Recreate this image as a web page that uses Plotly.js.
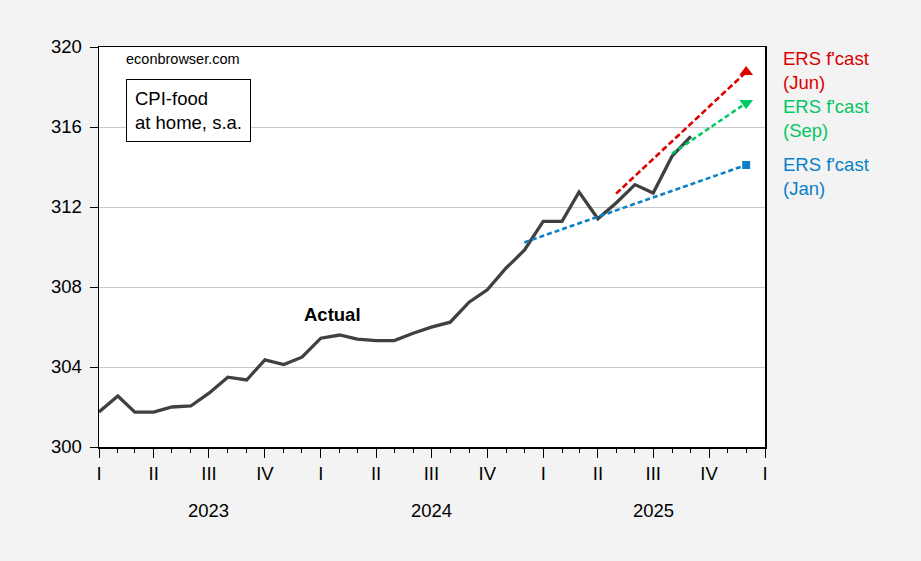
<!DOCTYPE html>
<html>
<head>
<meta charset="utf-8">
<script src="https://cdn.plot.ly/plotly-3.0.1.min.js"></script>
<style>
  html, body { margin: 0; padding: 0; background: #f3f3f3; }
  #chart { width: 921px; height: 561px; }
</style>
</head>
<body>
<div id="chart"></div>
<script>
// ---- Data ----
const actualDates = [
  '2023-01-01','2023-02-01','2023-03-01','2023-04-01','2023-05-01','2023-06-01',
  '2023-07-01','2023-08-01','2023-09-01','2023-10-01','2023-11-01','2023-12-01',
  '2024-01-01','2024-02-01','2024-03-01','2024-04-01','2024-05-01','2024-06-01',
  '2024-07-01','2024-08-01','2024-09-01','2024-10-01','2024-11-01','2024-12-01',
  '2025-01-01','2025-02-01','2025-03-01','2025-04-01','2025-05-01','2025-06-01',
  '2025-07-01','2025-08-01','2025-09-01'
];
const actualValues = [
  301.75, 302.55, 301.74, 301.74, 302.00, 302.05,
  302.69, 303.49, 303.35, 304.36, 304.12, 304.49,
  305.44, 305.60, 305.39, 305.32, 305.32, 305.69,
  305.99, 306.24, 307.24, 307.86, 308.95, 309.84,
  311.28, 311.28, 312.75, 311.41, 312.20, 313.12,
  312.70, 314.54, 315.53
];

const janFcastDates  = ['2024-12-01', '2025-12-01'];
const janFcastValues = [310.23, 314.10];
const junFcastDates  = ['2025-05-01', '2025-12-01'];
const junFcastValues = [312.67, 318.75];
const sepFcastDates  = ['2025-08-01', '2025-12-01'];
const sepFcastValues = [314.67, 317.20];

const quarterTickDates = [
  '2023-01-01','2023-04-01','2023-07-01','2023-10-01',
  '2024-01-01','2024-04-01','2024-07-01','2024-10-01',
  '2025-01-01','2025-04-01','2025-07-01','2025-10-01',
  '2026-01-01'
];
const quarterTickLabels = ['I','II','III','IV','I','II','III','IV','I','II','III','IV','I'];
const yearLabels = ['2023', '2024', '2025'];
const yearLabelDates = ['2023-07-01', '2024-07-01', '2025-07-01'];
const yTicks = [300, 304, 308, 312, 316, 320];

// ---- Styles ----
const FONT = 'Liberation Sans, Arial, sans-serif';
const RED = '#dd0000', GREEN = '#00c864', BLUE = '#0a80c8', DARK = '#404040';

const last = a => a[a.length - 1];

const traces = [
  { x: actualDates, y: actualValues, mode: 'lines', line: { color: DARK, width: 3.3 }, hoverinfo: 'x+y' },
  { x: janFcastDates, y: janFcastValues, mode: 'lines', line: { color: BLUE, width: 2.6, dash: '5px,3px' } },
  { x: [last(janFcastDates)], y: [last(janFcastValues)], mode: 'markers',
    marker: { color: BLUE, symbol: 'square', size: 8 } },
  { x: junFcastDates, y: junFcastValues, mode: 'lines', line: { color: RED, width: 2.6, dash: '6px,3px' } },
  { x: [last(junFcastDates)], y: [last(junFcastValues)], mode: 'markers',
    marker: { color: RED, symbol: 'triangle-up', size: 12 } },
  { x: sepFcastDates, y: sepFcastValues, mode: 'lines', line: { color: GREEN, width: 2.6, dash: '5px,3px' } },
  { x: [last(sepFcastDates)], y: [last(sepFcastValues)], mode: 'markers',
    marker: { color: GREEN, symbol: 'triangle-down', size: 12 } }
];

const annotations = [
  { xref: 'paper', yref: 'paper', x: 0.0375, y: 0.97, xanchor: 'left', yanchor: 'middle',
    text: 'econbrowser.com', showarrow: false, font: { family: FONT, size: 14.5, color: '#000' } },
  { xref: 'paper', yref: 'paper', x: 0.0405, y: 0.92, xanchor: 'left', yanchor: 'top',
    text: 'CPI-food<br>at home, s.a.', align: 'left', showarrow: false,
    bordercolor: '#000', borderwidth: 1, borderpad: 8, bgcolor: '#ffffff',
    font: { family: FONT, size: 18.5, color: '#000' } },
  { xref: 'paper', yref: 'paper', x: 0.351, y: 0.3325, xanchor: 'center', yanchor: 'middle',
    text: '<b>Actual</b>', showarrow: false, font: { family: FONT, size: 18.5, color: '#000' } },
  { xref: 'paper', yref: 'paper', x: 1.024, y: 0.9425, xanchor: 'left', yanchor: 'middle',
    text: "ERS f'cast<br>(Jun)", align: 'left', showarrow: false, font: { family: FONT, size: 18.5, color: RED } },
  { xref: 'paper', yref: 'paper', x: 1.024, y: 0.821, xanchor: 'left', yanchor: 'middle',
    text: "ERS f'cast<br>(Sep)", align: 'left', showarrow: false, font: { family: FONT, size: 18.5, color: GREEN } },
  { xref: 'paper', yref: 'paper', x: 1.024, y: 0.6775, xanchor: 'left', yanchor: 'middle',
    text: "ERS f'cast<br>(Jan)", align: 'left', showarrow: false, font: { family: FONT, size: 18.5, color: BLUE } }
];
yearLabels.forEach((t, i) => {
  annotations.push({ xref: 'x', yref: 'paper', x: yearLabelDates[i], y: -0.16, xanchor: 'center', yanchor: 'middle',
    text: t, showarrow: false, font: { family: FONT, size: 18.5, color: '#000' } });
});

const layout = {
  width: 921, height: 561,
  paper_bgcolor: '#f3f3f3', plot_bgcolor: '#ffffff',
  margin: { l: 99, r: 156, t: 47, b: 114, pad: 0 },
  showlegend: false,
  font: { family: FONT, size: 18.5, color: '#000' },
  xaxis: {
    type: 'date', range: ['2023-01-01', '2026-01-01'],
    tickmode: 'array', tickvals: quarterTickDates, ticktext: quarterTickLabels,
    ticks: 'outside', ticklen: 9, tickwidth: 1, tickcolor: '#000',
    showline: true, linecolor: '#000', linewidth: 1.5, mirror: true,
    showgrid: false, zeroline: false,
    tickfont: { family: FONT, size: 18.5, color: '#000' },
    ticklabelstandoff: 0,
    minor: { tickmode: 'linear', tick0: '2023-01-01', dtick: 'M1', ticks: 'outside', ticklen: 4,
             tickcolor: '#000', tickwidth: 1, showgrid: false }
  },
  yaxis: {
    range: [300, 320], tickmode: 'array', tickvals: yTicks,
    ticks: 'outside', ticklen: 8, tickwidth: 1, tickcolor: '#000',
    showline: true, linecolor: '#000', linewidth: 1.5, mirror: true,
    showgrid: true, gridcolor: '#c8c8c8', gridwidth: 1, zeroline: false,
    tickfont: { family: FONT, size: 18.5, color: '#000' },
    ticklabelstandoff: 4
  },
  annotations: annotations
};

Plotly.newPlot('chart', traces, layout, { displayModeBar: false, staticPlot: true });
</script>
</body>
</html>
